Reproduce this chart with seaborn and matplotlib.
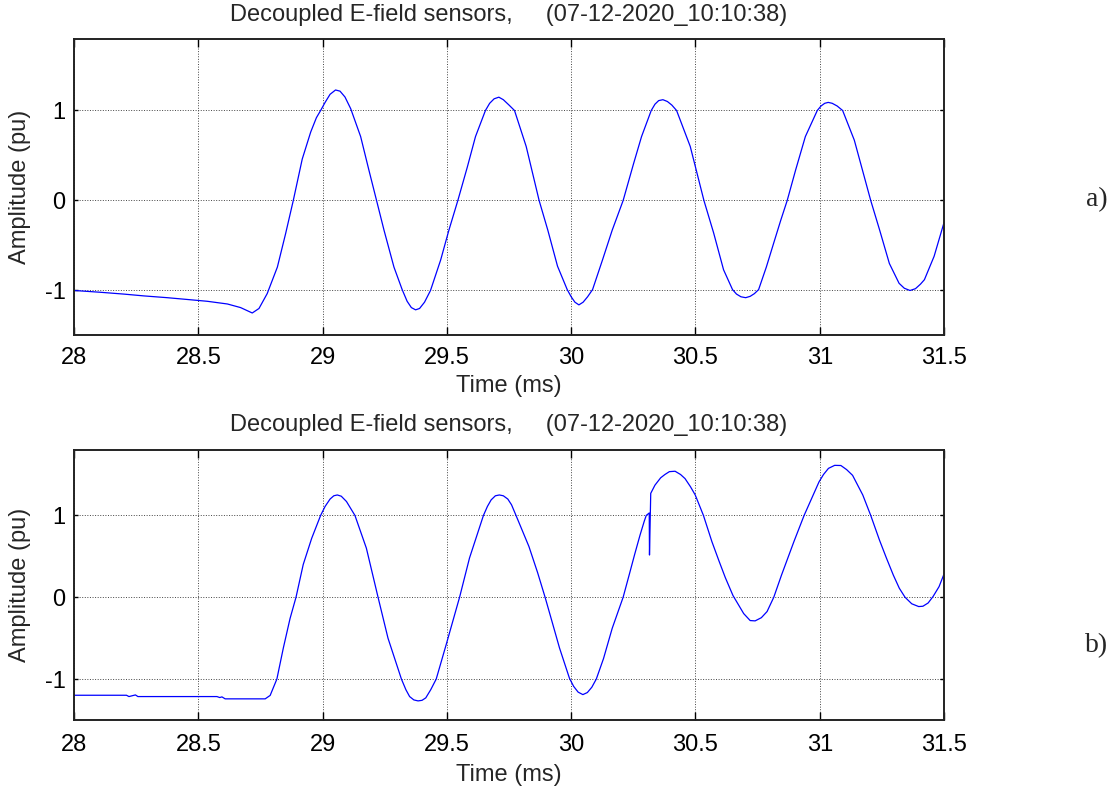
# two decoupled E-field sensor traces, stacked (a) and (b)
import pandas as pd
import matplotlib
matplotlib.use("Agg")
import matplotlib.pyplot as plt
import seaborn as sns

title_txt = "Decoupled E-field sensors,     (07-12-2020_10:10:38)"
x_ticks = [28, 28.5, 29, 29.5, 30, 30.5, 31, 31.5]
x_tick_labels = ["28", "28.5", "29", "29.5", "30", "30.5", "31", "31.5"]
y_ticks = [-1, 0, 1]
y_tick_labels = ["-1", "0", "1"]

# trace a)
time_a = [28.0, 28.107, 28.20, 28.28, 28.375, 28.456, 28.536, 28.617, 28.67, 28.717,
          28.744, 28.777, 28.818, 28.851, 28.882, 28.918, 28.952, 28.975, 28.992, 29.01, 29.03,
          29.052, 29.07, 29.09, 29.113, 29.153, 29.186, 29.217, 29.247, 29.287, 29.32,
          29.34, 29.357, 29.374, 29.39, 29.41, 29.434, 29.475, 29.508, 29.544, 29.582,
          29.615, 29.655, 29.672, 29.69, 29.709, 29.727, 29.75, 29.772, 29.819, 29.871,
          29.906, 29.945, 29.984, 30.0, 30.015, 30.031, 30.048, 30.066, 30.086, 30.126,
          30.165, 30.209, 30.251, 30.283, 30.322, 30.337, 30.352, 30.369, 30.387, 30.405,
          30.424, 30.479, 30.534, 30.573, 30.613, 30.649, 30.665, 30.683, 30.702, 30.72,
          30.737, 30.754, 30.785, 30.815, 30.843, 30.869, 30.903, 30.942, 30.99, 31.005, 31.02,
          31.034, 31.05, 31.07, 31.092, 31.139, 31.205, 31.241, 31.28, 31.319, 31.34,
          31.363, 31.385, 31.405, 31.421, 31.46, 31.5]
amp_a = [-1.0, -1.02, -1.04, -1.06, -1.08, -1.10, -1.12, -1.15, -1.19, -1.25,
         -1.20, -1.035, -0.74, -0.37, 0.0, 0.46, 0.76, 0.92, 1.0, 1.09, 1.18,
         1.228, 1.215, 1.15, 1.02, 0.71, 0.34, 0.0, -0.33, -0.74, -0.99,
         -1.12, -1.19, -1.215, -1.20, -1.13, -1.0, -0.66, -0.33, 0.0, 0.37,
         0.71, 1.0, 1.08, 1.13, 1.148, 1.12, 1.06, 1.0, 0.60, 0.0,
         -0.33, -0.73, -0.99, -1.07, -1.13, -1.16, -1.13, -1.07, -0.99, -0.66,
         -0.33, 0.0, 0.41, 0.71, 1.0, 1.07, 1.11, 1.12, 1.10, 1.06,
         1.0, 0.60, 0.0, -0.36, -0.77, -0.99, -1.04, -1.07, -1.08, -1.065,
         -1.035, -0.99, -0.74, -0.47, -0.22, 0.0, 0.34, 0.71, 1.0, 1.05, 1.08,
         1.09, 1.08, 1.05, 1.0, 0.67, 0.0, -0.33, -0.70, -0.92, -0.975,
         -1.0, -0.98, -0.93, -0.88, -0.62, -0.244]

# trace b) (spike near 30.31 ms)
time_b = [28.0, 28.211, 28.221, 28.247, 28.257, 28.575, 28.586, 28.595, 28.608, 28.769,
          28.789, 28.816, 28.842, 28.869, 28.893, 28.922, 28.956, 28.992, 29.01, 29.03,
          29.045, 29.059, 29.075, 29.096, 29.13, 29.176, 29.223, 29.263, 29.317, 29.335,
          29.35, 29.367, 29.384, 29.40, 29.415, 29.435, 29.457, 29.497, 29.551, 29.591,
          29.647, 29.663, 29.678, 29.695, 29.711, 29.727, 29.745, 29.76, 29.778, 29.83,
          29.865, 29.895, 29.925, 29.953, 29.993, 30.01, 30.028, 30.047, 30.065, 30.083,
          30.101, 30.13, 30.165, 30.209, 30.233, 30.255, 30.277, 30.294, 30.302, 30.314,
          30.315, 30.320, 30.337, 30.36, 30.377, 30.395, 30.418, 30.44, 30.458, 30.48,
          30.499, 30.532, 30.566, 30.595, 30.62, 30.651, 30.694, 30.72, 30.74, 30.765,
          30.788, 30.815, 30.846, 30.896, 30.937, 30.997, 31.015, 31.035, 31.06, 31.085,
          31.108, 31.132, 31.173, 31.205, 31.24, 31.268, 31.296, 31.32, 31.343, 31.37,
          31.398, 31.415, 31.436, 31.456, 31.48, 31.5]
amp_b = [-1.198, -1.198, -1.214, -1.194, -1.214, -1.214, -1.226, -1.218, -1.242, -1.242,
         -1.20, -1.0, -0.62, -0.26, 0.0, 0.40, 0.72, 1.0, 1.11, 1.20,
         1.24, 1.25, 1.235, 1.17, 1.0, 0.60, 0.0, -0.50, -1.0, -1.13,
         -1.214, -1.255, -1.267, -1.26, -1.23, -1.13, -1.0, -0.58, 0.0, 0.48,
         1.0, 1.11, 1.19, 1.24, 1.25, 1.24, 1.20, 1.13, 1.0, 0.62,
         0.30, 0.0, -0.32, -0.62, -0.99, -1.09, -1.16, -1.19, -1.165, -1.10,
         -1.0, -0.75, -0.38, 0.0, 0.27, 0.52, 0.76, 0.93, 1.0, 1.03,
         0.516, 1.27, 1.37, 1.46, 1.50, 1.535, 1.54, 1.50, 1.45, 1.35,
         1.25, 1.0, 0.68, 0.44, 0.24, 0.02, -0.20, -0.285, -0.289, -0.25,
         -0.175, 0.0, 0.27, 0.68, 1.0, 1.41, 1.50, 1.575, 1.612, 1.61,
         1.56, 1.49, 1.25, 1.0, 0.70, 0.48, 0.27, 0.11, 0.0, -0.08,
         -0.114, -0.11, -0.07, 0.01, 0.13, 0.285]

sns.set_style("white")
plt.rcParams['font.family'] = ['Liberation Sans', 'DejaVu Sans']
plt.rcParams['axes.unicode_minus'] = False

fig = plt.figure(figsize=(11.1, 7.89), dpi=100)
ax1 = fig.add_axes([0.0667, 0.5748, 0.7838, 0.3764])
ax2 = fig.add_axes([0.0667, 0.0875, 0.7838, 0.3422])

# per panel: title pad, tick label pad, xlabel pad, tag, tag y
traces = [(ax1, time_a, amp_a, 12.5, 8.5, 4, "a)", 0.747),
          (ax2, time_b, amp_b, 14.0, 10, 6, "b)", 0.182)]
for ax, t, a, tpad, kpad, lpad, tag, tag_y in traces:
    df = pd.DataFrame({'time': t, 'amp': a})
    sns.lineplot(data=df, x='time', y='amp', ax=ax, color='#0000ff', linewidth=0.9,
                 sort=False, estimator=None)
    ax.set_xlim(28, 31.5)
    ax.set_ylim(-1.5, 1.8)
    ax.set_xticks(x_ticks)
    ax.set_xticklabels(x_tick_labels)
    ax.set_yticks(y_ticks)
    ax.set_yticklabels(y_tick_labels)
    ax.grid(True, linestyle=':', color='#444444', linewidth=0.7)
    ax.tick_params(axis='x', direction='in', length=6, width=1, top=True, bottom=True,
                   labelsize=17, pad=kpad, colors='black')
    ax.tick_params(axis='y', direction='in', length=3, width=1, left=True, right=True,
                   labelsize=17, pad=6, colors='black')
    for sp in ax.spines.values():
        sp.set_linewidth(1.4)
        sp.set_color('#222222')
    ax.set_title(title_txt, fontsize=17, pad=tpad)
    ax.set_xlabel('Time (ms)', fontsize=17, labelpad=lpad)
    ax.set_ylabel('Amplitude (pu)', fontsize=17, labelpad=10)
    fig.text(0.988, tag_y, tag, fontsize=20, family=['Liberation Serif', 'DejaVu Serif'],
             ha='center', va='center')

fig.savefig('out.png', dpi=100)
